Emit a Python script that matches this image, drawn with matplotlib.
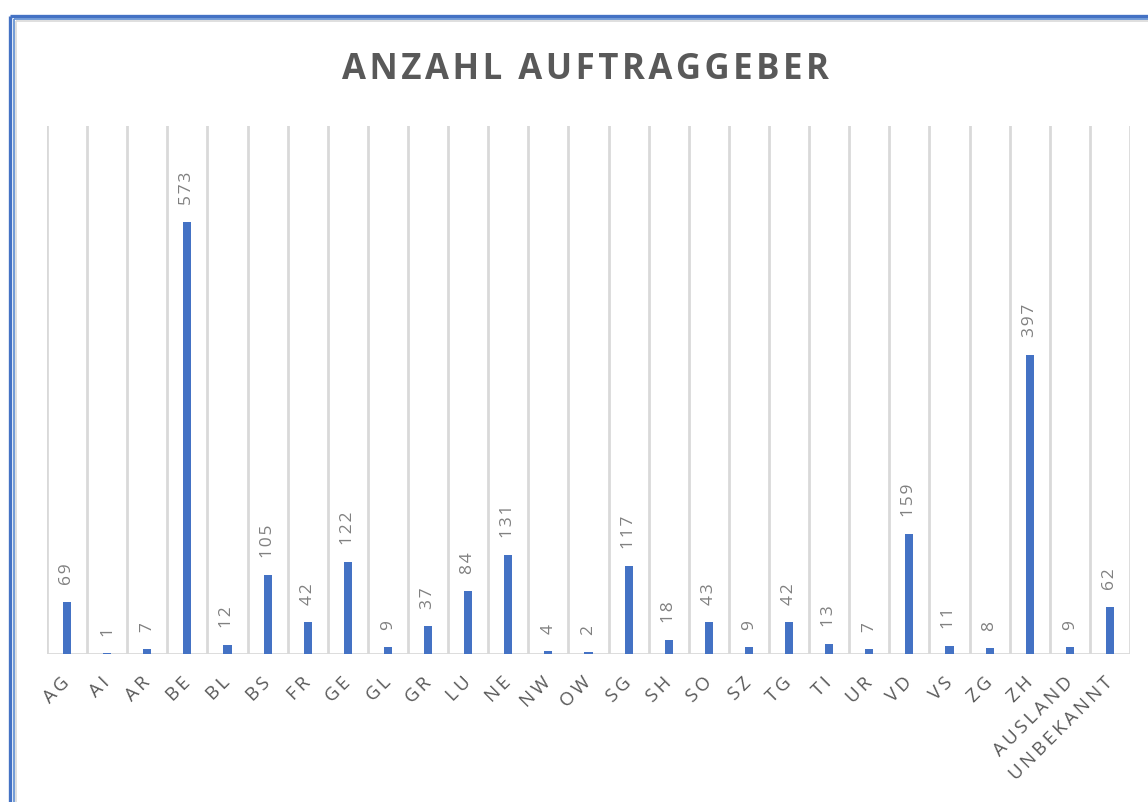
import matplotlib
matplotlib.use("Agg")
import matplotlib.pyplot as plt
from matplotlib.lines import Line2D

categories = ["AG", "AI", "AR", "BE", "BL", "BS", "FR", "GE", "GL", "GR", "LU", "NE", "NW", "OW",
              "SG", "SH", "SO", "SZ", "TG", "TI", "UR", "VD", "VS", "ZG", "ZH", "AUSLAND", "UNBEKANNT"]
values = [69, 1, 7, 573, 12, 105, 42, 122, 9, 37, 84, 131, 4, 2,
          117, 18, 43, 9, 42, 13, 7, 159, 11, 8, 397, 9, 62]
title = "ANZAHL AUFTRAGGEBER"


def spaced(s, sep):
    return sep.join(s)


FAM = ["Open Sans", "DejaVu Sans"]
W, H = 1148, 803
fig = plt.figure(figsize=(W / 100, H / 100), dpi=100)
fig.patch.set_facecolor("white")

ax = fig.add_axes([47 / W, 1 - 655 / H, (1130 - 47) / W, (655 - 127) / H])
n = len(categories)
x = list(range(n))
ax.bar(x, values, width=0.2, color="#4472C4", zorder=3)
ax.set_xlim(-0.5, n - 0.5)
ax.set_ylim(0, 700)

for b in range(n + 1):
    ax.axvline(b - 0.5, color="#D9D9D9", lw=2, zorder=1)
ax.axhline(0, color="#D9D9D9", lw=2, zorder=2)

for s in ax.spines.values():
    s.set_visible(False)
ax.set_yticks([])
ax.set_xticks(x)
ax.set_xticklabels([spaced(c, "\u2009") for c in categories], rotation=45, ha="right",
                   va="center", rotation_mode="anchor", fontsize=13.5, color="#595959")
for lbl in ax.get_xticklabels():
    lbl.set_fontfamily(FAM)
ax.tick_params(axis="x", length=0, pad=18)

for xi, v in zip(x, values):
    ax.annotate(spaced(str(v), "\u200a"), (xi, v), xytext=(0, 13), textcoords="offset points",
                rotation=90, ha="center", va="bottom", fontsize=12.5, color="#808080",
                family=FAM)

fig.text(585 / W, 1 - 70 / H, spaced(title, "\u200a"), ha="center", va="center", fontsize=25,
         fontweight="bold", color="#595959", family=FAM)

def fl(x0, y0, x1, y1, c, lw):
    fig.add_artist(Line2D([x0 / W, x1 / W], [1 - y0 / H, 1 - y1 / H], color=c, lw=lw,
                          transform=fig.transFigure, solid_capstyle="butt"))

fl(9.5, 16.5, W, 16.5, "#4472C4", 2.4)
fl(9.5, 16.5, 9.5, H, "#4472C4", 2.4)
fl(13.5, 20, W, 20, "#5B8BD0", 1.2)
fl(13.5, 20, 13.5, H, "#5B8BD0", 1.2)
fl(15.5, 22, W, 22, "#D9D9D9", 1.2)
fl(15.5, 22, 15.5, H, "#D9D9D9", 1.2)

fig.savefig("out.png", dpi=100)
